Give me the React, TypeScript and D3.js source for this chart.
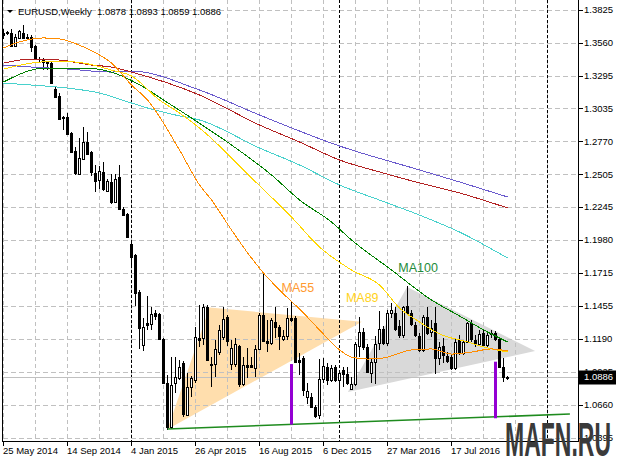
import * as d3 from 'd3';

const FONT = '"Liberation Sans", Arial, sans-serif';

// weekly EURUSD candles, week 0 = 25 May 2014
const openPrices = [
    1.3641, 1.3643, 1.3641, 1.3537, 1.3601, 1.3641, 1.3609, 1.3609, 1.3537, 1.3433,
    1.3433, 1.3405, 1.3401, 1.3193, 1.3137, 1.2965, 1.2969, 1.2833, 1.2689, 1.2505,
    1.2625, 1.2761, 1.2681, 1.2513, 1.2457, 1.2521, 1.2369, 1.2441, 1.2281, 1.2481,
    1.2225, 1.2185, 1.1951, 1.1861, 1.1565, 1.1141, 1.1317, 1.1309, 1.1397, 1.1389,
    1.1189, 1.0837, 1.0485, 1.0837, 1.0877, 1.0997, 1.0581, 1.0805, 1.0861, 1.1197,
    1.1197, 1.1445, 1.0989, 1.0989, 1.1085, 1.1205, 1.1365, 1.0989, 1.0989, 1.1133,
    1.0829, 1.0981, 1.0981, 1.0957, 1.1109, 1.1381, 1.1173, 1.1157, 1.1325, 1.1285,
    1.1189, 1.1213, 1.1357, 1.1357, 1.1021, 1.1037, 1.0725, 1.0725, 1.0645, 1.0581,
    1.0869, 1.0965, 1.0861, 1.0965, 1.0861, 1.0941, 1.0909, 1.0789, 1.0829, 1.1133,
    1.1245, 1.1125, 1.0917, 1.1005, 1.1157, 1.1269, 1.1157, 1.1397, 1.1397, 1.1293,
    1.1221, 1.1453, 1.1397, 1.1301, 1.1213, 1.1101, 1.1365, 1.1245, 1.1317, 1.1037,
    1.1135, 1.1053, 1.1045, 1.0957, 1.1181, 1.1077, 1.1165, 1.1317, 1.1181, 1.1149,
    1.1237, 1.1141, 1.1237, 1.1237, 1.1189, 1.0965, 1.0878,
];
const highPrices = [
    1.3673, 1.3657, 1.3673, 1.3633, 1.3665, 1.3705, 1.3633, 1.3625, 1.3545, 1.3449,
    1.3441, 1.3417, 1.3409, 1.3217, 1.3161, 1.2977, 1.3001, 1.2849, 1.2721, 1.2793,
    1.2889, 1.2841, 1.2689, 1.2577, 1.2569, 1.2601, 1.2465, 1.2505, 1.2505, 1.2577,
    1.2241, 1.2193, 1.1959, 1.1869, 1.1581, 1.1357, 1.1533, 1.1445, 1.1421, 1.1397,
    1.1197, 1.0901, 1.1045, 1.1045, 1.1021, 1.1013, 1.0917, 1.0893, 1.1285, 1.1461,
    1.1469, 1.1461, 1.1045, 1.1181, 1.1301, 1.1445, 1.1381, 1.1181, 1.1197, 1.1141,
    1.1045, 1.1117, 1.1045, 1.1141, 1.1397, 1.1713, 1.1341, 1.1357, 1.1445, 1.1301,
    1.1261, 1.1437, 1.1493, 1.1373, 1.1077, 1.1053, 1.0837, 1.0757, 1.0661, 1.1029,
    1.1037, 1.0997, 1.0981, 1.0981, 1.0941, 1.0965, 1.0965, 1.0885, 1.1165, 1.1365,
    1.1277, 1.1150, 1.1037, 1.1213, 1.1413, 1.1293, 1.1421, 1.1477, 1.1445, 1.1341,
    1.1453, 1.1613, 1.1421, 1.1325, 1.1237, 1.1381, 1.1445, 1.1341, 1.1445, 1.1165,
    1.1197, 1.1085, 1.1061, 1.1197, 1.1221, 1.1181, 1.1325, 1.1341, 1.1221, 1.1261,
    1.1261, 1.1245, 1.1261, 1.1253, 1.1197, 1.1037, 1.0893,
];
const lowPrices = [
    1.3593, 1.3625, 1.3529, 1.3529, 1.3593, 1.3593, 1.3585, 1.3489, 1.3425, 1.3401,
    1.3345, 1.3345, 1.3233, 1.3121, 1.2945, 1.2865, 1.2817, 1.2673, 1.2497, 1.2497,
    1.2617, 1.2657, 1.2489, 1.2361, 1.2391, 1.2369, 1.2361, 1.2265, 1.2273, 1.2217,
    1.2169, 1.1993, 1.1759, 1.1453, 1.1109, 1.1093, 1.1261, 1.1261, 1.1341, 1.1181,
    1.0829, 1.0461, 1.0469, 1.0757, 1.0861, 1.0565, 1.0573, 1.0720, 1.0837, 1.1125,
    1.1141, 1.1013, 1.0805, 1.0885, 1.1061, 1.1181, 1.1135, 1.0941, 1.0965, 1.0805,
    1.0813, 1.0877, 1.0957, 1.0885, 1.1101, 1.1165, 1.1085, 1.1141, 1.1197, 1.1101,
    1.1173, 1.1181, 1.1325, 1.0997, 1.0901, 1.0733, 1.0669, 1.0637, 1.0557, 1.0549,
    1.0837, 1.0821, 1.0845, 1.0845, 1.0701, 1.0805, 1.0821, 1.0781, 1.0813, 1.1045,
    1.1101, 1.0917, 1.0837, 1.0830, 1.1101, 1.1141, 1.1133, 1.1357, 1.1253, 1.1197,
    1.1197, 1.1381, 1.1293, 1.1205, 1.1085, 1.1085, 1.1221, 1.1205, 1.0909, 1.0981,
    1.0997, 1.0997, 1.0941, 1.0941, 1.1061, 1.1061, 1.1157, 1.1165, 1.1125, 1.1133,
    1.1125, 1.1125, 1.1197, 1.1173, 1.0957, 1.0845, 1.0859,
];
const closePrices = [
    1.3625, 1.3640, 1.3537, 1.3609, 1.3657, 1.3601, 1.3601, 1.3529, 1.3433, 1.3429,
    1.3409, 1.3401, 1.3241, 1.3129, 1.2953, 1.2960, 1.2825, 1.2681, 1.2513, 1.2633,
    1.2761, 1.2665, 1.2521, 1.2449, 1.2529, 1.2385, 1.2449, 1.2281, 1.2465, 1.2225,
    1.2177, 1.2001, 1.1847, 1.1557, 1.1277, 1.1285, 1.1301, 1.1389, 1.1373, 1.1189,
    1.0837, 1.0485, 1.0821, 1.0885, 1.0965, 1.0589, 1.0805, 1.0877, 1.1205, 1.1181,
    1.1445, 1.1021, 1.0981, 1.1109, 1.1261, 1.1349, 1.1170, 1.1117, 1.1149, 1.0829,
    1.0981, 1.0965, 1.0965, 1.1109, 1.1381, 1.1173, 1.1157, 1.1341, 1.1285, 1.1213,
    1.1213, 1.1357, 1.1341, 1.1005, 1.1005, 1.0781, 1.0773, 1.0645, 1.0573, 1.0869,
    1.0973, 1.0861, 1.0957, 1.0861, 1.0917, 1.0909, 1.0837, 1.0829, 1.1150, 1.1245,
    1.1125, 1.0925, 1.1005, 1.1149, 1.1269, 1.1157, 1.1397, 1.1421, 1.1269, 1.1221,
    1.1445, 1.1397, 1.1309, 1.1221, 1.1101, 1.1365, 1.1237, 1.1277, 1.1037, 1.1125,
    1.1061, 1.1013, 1.0957, 1.1165, 1.1077, 1.1165, 1.1317, 1.1189, 1.1149, 1.1229,
    1.1141, 1.1221, 1.1229, 1.1189, 1.0965, 1.0885, 1.0886,
];

const ma55Weeks = [0, 4, 10, 14, 20, 24, 27, 32, 36, 44, 49, 52, 57, 62, 65, 69, 75, 79, 84, 87, 91, 95, 102, 107, 112, 117, 122, 126];
const ma55Values = [1.3518, 1.3566, 1.3598, 1.3590, 1.3526, 1.3462, 1.3397, 1.3221, 1.3101, 1.2701, 1.2421, 1.2301, 1.2060, 1.1836, 1.1716, 1.1580, 1.1396, 1.1260, 1.1100, 1.1043, 1.1027, 1.1036, 1.1100, 1.1108, 1.1067, 1.1083, 1.1108, 1.1092];
const ma89Weeks = [0, 7, 14, 20, 27, 32, 39, 44, 49, 62, 72, 79, 87, 94, 99, 104, 109, 116, 120, 126];
const ma89Values = [1.3349, 1.3397, 1.3413, 1.3397, 1.3341, 1.3293, 1.3101, 1.2997, 1.2877, 1.2477, 1.2164, 1.1924, 1.1740, 1.1620, 1.1436, 1.1324, 1.1228, 1.1164, 1.1124, 1.1084];
const ma100Weeks = [0, 7, 10, 16, 20, 27, 29, 35, 40, 47, 57, 67, 74, 82, 87, 97, 107, 114, 121, 126];
const ma100Values = [1.3245, 1.3341, 1.3357, 1.3357, 1.3357, 1.3325, 1.3301, 1.3205, 1.3101, 1.2957, 1.2741, 1.2501, 1.2301, 1.2124, 1.1981, 1.1740, 1.1500, 1.1372, 1.1244, 1.1164];
const maRedWeeks = [0, 7, 14, 22, 27, 32, 49, 64, 74, 84, 94, 104, 114, 126];
const maRedValues = [1.3397, 1.3429, 1.3421, 1.3381, 1.3365, 1.3325, 1.3141, 1.2901, 1.2765, 1.2621, 1.2525, 1.2437, 1.2357, 1.2237];
const maBlueWeeks = [0, 7, 16, 27, 32, 49, 64, 84, 104, 114, 126];
const maBlueValues = [1.3381, 1.3365, 1.3349, 1.3325, 1.3333, 1.3181, 1.2981, 1.2733, 1.2541, 1.2445, 1.2325];
const maCyanWeeks = [0, 7, 16, 24, 32, 36, 43, 49, 64, 74, 84, 94, 104, 114, 126];
const maCyanValues = [1.3237, 1.3221, 1.3197, 1.3157, 1.3077, 1.3037, 1.2981, 1.2941, 1.2717, 1.2581, 1.2421, 1.2300, 1.2180, 1.2044, 1.1836];

// drawn objects
const peachWeeks = [41, 51.5, 89.6];
const peachPrices = [1.0465, 1.1440, 1.1325];
const grayWeeks = [86.1, 100.9, 132.9];
const grayPrices = [1.0763, 1.1604, 1.1092];
const supportWeeks = [41, 141.6];
const supportPrices = [1.0467, 1.0587];
const markerWeeks = [72, 123];
const markerTops = [1.0987, 1.1006];
const markerBottoms = [1.0502, 1.0553];
const maLabels = ['MA55', 'MA89', 'MA100'];
const maLabelWeeks = [69.5, 85.6, 98.7];
const maLabelPrices = [1.1562, 1.1480, 1.1722];

const priceTicks = [1.3825, 1.356, 1.3295, 1.3035, 1.277, 1.2505, 1.2245, 1.198, 1.1715, 1.1455, 1.119, 1.0925, 1.066, 1.0395];
const dateLabels = ['25 May 2014', '14 Sep 2014', '4 Jan 2015', '26 Apr 2015', '16 Aug 2015', '6 Dec 2015', '27 Mar 2016', '17 Jul 2016'];
const dateLabelWeeks = [0, 16, 32, 48, 64, 80, 96, 112];
const separatorWeeks = [32, 84, 136];
const lastPrice = 1.0886;

const W = 617;
const H = 462;
const LEFT = 2.5;
const RIGHT = 578.5;
const BOTTOM = 441.5;

export default function App() {
    const xScale = d3.scaleLinear().domain([0, 126]).range([3.5, 507.5]);
    const yScale = d3.scaleLinear().domain([1.0395, 1.3825]).range([438, 9.6]);
    const yc = (p: number) => Math.round(yScale(p)) + 0.5;

    const line = d3
        .line<[number, number]>()
        .x((d) => xScale(d[0]))
        .y((d) => yScale(d[1]))
        .curve(d3.curveMonotoneX);

    const mas = [
        { weeks: maBlueWeeks, values: maBlueValues, color: '#6A5ACD' },
        { weeks: maRedWeeks, values: maRedValues, color: '#B22222' },
        { weeks: maCyanWeeks, values: maCyanValues, color: '#48D1CC' },
        { weeks: ma100Weeks, values: ma100Values, color: '#008000' },
        { weeks: ma89Weeks, values: ma89Values, color: '#FFD700' },
        { weeks: ma55Weeks, values: ma55Values, color: '#FF8C00' },
    ];
    const labelColors = ['#FF9A30', '#FFD21A', '#1E8B3A'];

    const tri = (weeks: number[], prices: number[]) =>
        weeks.map((w, i) => `${xScale(w)},${yScale(prices[i])}`).join(' ');

    const gridWeeks = d3.range(0, 144, 8);

    return (
        <div style={{ position: 'absolute', left: 0, top: 0 }}>
            <svg width={W} height={H} viewBox={`0 0 ${W} ${H}`} style={{ display: 'block', background: '#fff' }} fontFamily={FONT}>
                <rect width={W} height={H} fill="#fff" />
                {/* background objects */}
                <polygon points={tri(peachWeeks, peachPrices)} fill="#FFDEAD" />
                <polygon points={tri(grayWeeks, grayPrices)} fill="#D9D9D9" />

                {/* grid */}
                <g stroke="#C0C0C0" strokeWidth={1} strokeDasharray="5,3" shapeRendering="crispEdges">
                    {priceTicks.map((p) => (
                        <line key={p} x1={LEFT} x2={RIGHT} y1={yc(p)} y2={yc(p)} />
                    ))}
                    {gridWeeks.map((w) => (
                        <line key={w} x1={xScale(w)} x2={xScale(w)} y1={0} y2={BOTTOM} strokeDasharray="4,3" />
                    ))}
                </g>
                <g stroke="#000" strokeWidth={1} strokeDasharray="3,2" shapeRendering="crispEdges">
                    {separatorWeeks.map((w) => (
                        <line key={w} x1={xScale(w)} x2={xScale(w)} y1={0} y2={BOTTOM} />
                    ))}
                </g>

                {/* bid line */}
                <line x1={LEFT} x2={RIGHT} y1={yc(lastPrice)} y2={yc(lastPrice)} stroke="#C0C0C0" shapeRendering="crispEdges" />

                {/* candles */}
                <g shapeRendering="crispEdges">
                    {openPrices.map((o, i) => {
                        const c = closePrices[i];
                        const cx = xScale(i);
                        const top = Math.round(yScale(Math.max(o, c)));
                        const bot = Math.round(yScale(Math.min(o, c)));
                        const bull = c > o;
                        return (
                            <g key={i}>
                                <line x1={cx} x2={cx} y1={yScale(highPrices[i])} y2={yScale(lowPrices[i])} stroke="#000" />
                                {bull ? (
                                    <rect x={cx - 1} y={top + 0.5} width={2} height={Math.max(1, bot - top)} fill="#fff" stroke="#000" />
                                ) : (
                                    <rect x={cx - 1.5} y={top} width={3} height={Math.max(1, bot - top + 1)} fill="#000" />
                                )}
                            </g>
                        );
                    })}
                </g>

                {/* moving averages */}
                <g fill="none" strokeWidth={1} shapeRendering="crispEdges">
                    {mas.map((m) => (
                        <path
                            key={m.color}
                            d={line(m.weeks.map((w, i) => [w, m.values[i]] as [number, number])) || ''}
                            stroke={m.color}
                        />
                    ))}
                </g>

                {/* support line and markers */}
                <line
                    x1={xScale(supportWeeks[0])}
                    x2={xScale(supportWeeks[1])}
                    y1={yScale(supportPrices[0])}
                    y2={yScale(supportPrices[1])}
                    stroke="#1E8B1E"
                    strokeWidth={1.6}
                />
                {markerWeeks.map((w, i) => (
                    <line
                        key={w}
                        x1={xScale(w)}
                        x2={xScale(w)}
                        y1={yScale(markerTops[i])}
                        y2={yScale(markerBottoms[i])}
                        stroke="#9400D3"
                        strokeWidth={3}
                    />
                ))}

                {maLabels.map((t, i) => (
                    <text key={t} x={xScale(maLabelWeeks[i])} y={yScale(maLabelPrices[i])} fontSize={12.5} fill={labelColors[i]}>
                        {t}
                    </text>
                ))}

                {/* frame and axes */}
                <g stroke="#000" shapeRendering="crispEdges">
                    <line x1={LEFT} x2={LEFT} y1={0} y2={BOTTOM} />
                    <line x1={RIGHT} x2={RIGHT} y1={0} y2={BOTTOM} />
                    <line x1={LEFT} x2={RIGHT} y1={BOTTOM} y2={BOTTOM} />
                    {priceTicks.map((p) => (
                        <line key={p} x1={RIGHT} x2={RIGHT + 4} y1={yc(p)} y2={yc(p)} />
                    ))}
                    {dateLabelWeeks.map((w) => (
                        <line key={w} x1={xScale(w)} x2={xScale(w)} y1={BOTTOM} y2={BOTTOM + 4} />
                    ))}
                </g>
                <g fontSize={9.5} fill="#000">
                    {priceTicks.map((p) => (
                        <text key={p} x={584} y={yScale(p)} dy="0.35em">
                            {p.toFixed(4)}
                        </text>
                    ))}
                    {dateLabels.map((t, i) => (
                        <text key={t} x={xScale(dateLabelWeeks[i]) - 0.5} y={454}>
                            {t}
                        </text>
                    ))}
                </g>

                {/* last price box */}
                <rect x={579} y={yc(lastPrice) - 7} width={37} height={14} fill="#000" />
                <text x={584} y={yScale(lastPrice)} dy="0.35em" fontSize={9.5} fill="#fff">
                    {lastPrice.toFixed(4)}
                </text>

                {/* header */}
                <polygon points="7,10 13,10 10,13" fill="#000" />
                <text x={18} y={14.5} fontSize={9.5} fill="#000">
                    EURUSD,Weekly
                </text>
                <text x={97} y={14.5} fontSize={9.5} fill="#000">
                    {[openPrices[126], highPrices[126], lowPrices[126], closePrices[126]].map((v) => v.toFixed(4)).join(' ')}
                </text>

                {/* watermark */}
                <text
                    x={505}
                    y={456}
                    fontSize={48}
                    fontWeight="bold"
                    fill="#3a3a3a"
                    textLength={106}
                    lengthAdjust="spacingAndGlyphs"
                    fontFamily={'"Liberation Sans Narrow", "Liberation Sans", sans-serif'}
                >
                    MAFN.RU
                </text>
            </svg>
        </div>
    );
}
